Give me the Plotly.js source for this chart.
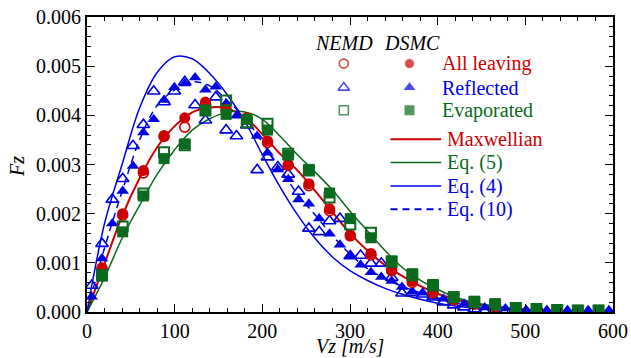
<!DOCTYPE html>
<html>
<head>
<meta charset="utf-8">
<script src="https://cdn.plot.ly/plotly-3.0.1.min.js"></script>
<style>html,body{margin:0;padding:0;background:#fff;}#plot{width:631px;height:358px;}</style>
</head>
<body>
<div id="plot"></div>
<script>
// ---- Data (Vz in m/s, Fz) ----
const xRefl = [5.3,17.1,28.9,40.7,52.5,64.3,76.1,87.9,99.7,111.5,123.3,135.1,146.9,158.7,170.5,182.3,194.1,205.9,217.7,229.5,241.3,253.1,264.9,276.7,288.5,300.3,312.1,323.9,335.7,347.5,359.3,371.1,382.9,394.7,406.5,418.3,430.1,441.9,453.7,465.5,477.3,489.1,500.9,512.7,524.5,536.3,548.1,559.9,571.7,583.5,595.3];
const dsmcRefl = [0.31e-3,1.09e-3,1.80e-3,2.46e-3,2.97e-3,3.65e-3,3.92e-3,4.31e-3,4.57e-3,4.65e-3,4.77e-3,4.52e-3,4.58e-3,4.24e-3,3.99e-3,3.88e-3,3.58e-3,3.24e-3,2.90e-3,2.70e-3,2.29e-3,2.20e-3,1.90e-3,1.59e-3,1.37e-3,1.14e-3,0.96e-3,0.81e-3,0.71e-3,0.63e-3,0.51e-3,0.41e-3,0.39e-3,0.305e-3,0.27e-3,0.22e-3,0.17e-3,0.15e-3,0.09e-3,0.08e-3,0.07e-3,0.05e-3,0.04e-3,0.04e-3,0.03e-3,0.03e-3,0.03e-3,0.02e-3,0.02e-3,0.02e-3,0.02e-3];
const nemdRefl = [0.54e-3,1.39e-3,2.29e-3,2.71e-3,3.38e-3,3.81e-3,4.49e-3,4.27e-3,4.49e-3,4.68e-3,4.21e-3,3.90e-3,4.37e-3,3.70e-3,3.58e-3,3.80e-3,2.89e-3,3.15e-3,2.95e-3,2.80e-3,2.45e-3,1.70e-3,1.63e-3,1.85e-3,1.90e-3,1.14e-3,1.15e-3,0.99e-3,0.99e-3,0.70e-3,0.38e-3,0.39e-3,0.36e-3,0.30e-3,0.20e-3,0.14e-3,0.10e-3,0.06e-3,0.01e-3,0.01e-3,0.01e-3,0.01e-3,0.01e-3,0.01e-3,0.01e-3,0.01e-3,0.01e-3,0.01e-3,0.01e-3,0.01e-3,0.01e-3];

const xAll = [17.1,40.7,64.3,87.9,111.5,135.1,158.7,182.3,205.9,229.5,253.1,276.7,300.3,323.9,347.5,371.1,394.7,418.3,441.9,465.5,489.1,512.7,536.3,559.9,583.5];
const dsmcAll = [0.90e-3,2.00e-3,2.88e-3,3.59e-3,3.95e-3,4.27e-3,4.13e-3,3.95e-3,3.48e-3,3.00e-3,2.61e-3,2.10e-3,1.57e-3,1.19e-3,0.86e-3,0.63e-3,0.41e-3,0.26e-3,0.17e-3,0.11e-3,0.07e-3,0.045e-3,0.03e-3,0.02e-3,0.01e-3];
const nemdAll = [0.88e-3,1.97e-3,2.83e-3,3.57e-3,3.76e-3,4.22e-3,4.10e-3,3.92e-3,3.45e-3,2.98e-3,2.57e-3,2.06e-3,1.55e-3,1.16e-3,0.84e-3,0.60e-3,0.39e-3,0.25e-3,0.16e-3,0.10e-3,0.06e-3,0.04e-3,0.02e-3,0.01e-3,0.01e-3];
const dsmcEvap = [0.73e-3,1.63e-3,2.36e-3,3.12e-3,3.42e-3,4.10e-3,4.02e-3,3.92e-3,3.70e-3,3.19e-3,2.90e-3,2.42e-3,1.90e-3,1.51e-3,1.04e-3,0.78e-3,0.56e-3,0.31e-3,0.22e-3,0.17e-3,0.09e-3,0.07e-3,0.05e-3,0.035e-3,0.035e-3];
const nemdEvap = [0.75e-3,1.74e-3,2.41e-3,3.25e-3,3.39e-3,4.10e-3,4.30e-3,3.86e-3,3.83e-3,3.22e-3,2.88e-3,2.33e-3,1.78e-3,1.61e-3,1.02e-3,0.75e-3,0.54e-3,0.30e-3,0.20e-3,0.15e-3,0.08e-3,0.06e-3,0.04e-3,0.03e-3,0.03e-3];

const xCurve = [0,20,40,60,80,100,120,140,160,180,200,220,240,260,280,300,320,340,360,380,400,420,440,460,480,500,520,540,560,580,600];
const maxwellian = [0,0.98e-3,1.95e-3,2.72e-3,3.35e-3,3.78e-3,4.06e-3,4.16e-3,4.14e-3,3.96e-3,3.62e-3,3.22e-3,2.88e-3,2.47e-3,2.03e-3,1.60e-3,1.25e-3,0.95e-3,0.73e-3,0.53e-3,0.37e-3,0.26e-3,0.18e-3,0.12e-3,0.08e-3,0.05e-3,0.03e-3,0.02e-3,0.01e-3,0.006e-3,0.004e-3];
const eq5 = [0,0.70e-3,1.50e-3,2.17e-3,2.80e-3,3.30e-3,3.70e-3,3.93e-3,4.06e-3,4.07e-3,3.92e-3,3.58e-3,3.20e-3,2.85e-3,2.48e-3,2.05e-3,1.65e-3,1.25e-3,0.90e-3,0.65e-3,0.46e-3,0.30e-3,0.20e-3,0.13e-3,0.08e-3,0.05e-3,0.03e-3,0.02e-3,0.012e-3,0.008e-3,0.005e-3];
const eq4 = [0,1.80e-3,3.00e-3,4.15e-3,4.87e-3,5.19e-3,5.15e-3,4.85e-3,4.42e-3,3.88e-3,3.20e-3,2.55e-3,1.98e-3,1.50e-3,1.12e-3,0.84e-3,0.64e-3,0.48e-3,0.36e-3,0.26e-3,0.18e-3,0.12e-3,0.08e-3,0.055e-3,0.035e-3,0.022e-3,0.014e-3,0.009e-3,0.006e-3,0.004e-3,0.002e-3];
const eq10 = [0,1.30e-3,2.45e-3,3.50e-3,4.20e-3,4.52e-3,4.68e-3,4.60e-3,4.30e-3,3.95e-3,3.45e-3,2.92e-3,2.40e-3,1.98e-3,1.55e-3,1.18e-3,0.88e-3,0.68e-3,0.52e-3,0.39e-3,0.29e-3,0.21e-3,0.15e-3,0.10e-3,0.07e-3,0.045e-3,0.03e-3,0.02e-3,0.012e-3,0.008e-3,0.005e-3];

const xTickVals = [0,100,200,300,400,500,600];
const yTickVals = [0,0.001,0.002,0.003,0.004,0.005,0.006];

// ---- Styles ----
const RED = '#cc0000', BLUE = '#0000e6', GREEN = '#0a6a1e';
const FONT = 'Liberation Serif';

const traces = [
  {x: xCurve, y: maxwellian, mode:'lines', line:{color:RED, width:2, shape:'spline'}},
  {x: xCurve, y: eq5, mode:'lines', line:{color:GREEN, width:1.5, shape:'spline'}},
  {x: xCurve, y: eq4, mode:'lines', line:{color:BLUE, width:1.5, shape:'spline'}},
  {x: xCurve, y: eq10, mode:'lines', line:{color:BLUE, width:1.5, dash:'7px,5px', shape:'spline'}},
  {x: xRefl, y: nemdRefl, mode:'markers', marker:{symbol:'triangle-up-open', size:11, color:BLUE, line:{width:1.6}}},
  {x: xRefl, y: dsmcRefl, mode:'markers', marker:{symbol:'triangle-up', size:11, color:BLUE}},
  {x: xAll, y: nemdAll, mode:'markers', marker:{symbol:'circle-open', size:10, color:RED, line:{width:1.6}}},
  {x: xAll, y: dsmcAll, mode:'markers', marker:{symbol:'circle', size:11, color:RED}},
  {x: xAll, y: nemdEvap, mode:'markers', marker:{symbol:'square-open', size:10, color:GREEN, line:{width:2}}},
  {x: xAll, y: dsmcEvap, mode:'markers', marker:{symbol:'square', size:11, color:GREEN}}
];

// legend (overlay axes in pixel-like units)
const lgOpenX = 256.8, lgFillX = 322.5;
const lgRowsY = [248.4, 224.4, 201.7];
traces.push({x:[lgOpenX,lgOpenX,lgOpenX], y:lgRowsY, xaxis:'x2', yaxis:'y2', mode:'markers', cliponaxis:false,
  marker:{symbol:['circle-open','triangle-up-open','square-open'], size:[9,10,9], color:[RED,BLUE,GREEN], line:{width:1.6}}});
traces.push({x:[lgFillX,lgFillX,lgFillX], y:lgRowsY, xaxis:'x2', yaxis:'y2', mode:'markers', cliponaxis:false,
  marker:{symbol:['circle','triangle-up','square'], size:[10,12,11], color:[RED,BLUE,GREEN]}});
const lineRowsY = [172.7, 149.4, 126.0, 102.7];
const lineStyles = [{color:RED,width:2},{color:GREEN,width:1.5},{color:BLUE,width:1.5},{color:BLUE,width:2,dash:'7px,5px'}];
lineRowsY.forEach((yy,i)=>{
  traces.push({x:[303.5,354.2], y:[yy,yy], xaxis:'x2', yaxis:'y2', mode:'lines', cliponaxis:false, line:lineStyles[i]});
});

const ann = [];
function addText(t, x, y, color, anchor, italic){
  ann.push({text: italic ? '<i>'+t+'</i>' : t, x:x, y:y, xref:'x2', yref:'y2', showarrow:false,
    xanchor:anchor, yanchor:'middle', font:{family:FONT, size:20, color:color}});
}
addText('NEMD', 257, 268.7, '#000', 'center', true);
addText('DSMC', 325, 268.7, '#000', 'center', true);
addText('All leaving', 353, 248.4, RED, 'left');
addText('Reflected', 353, 224.4, BLUE, 'left');
addText('Evaporated', 353, 201.7, GREEN, 'left');
addText('Maxwellian', 358, 172.7, RED, 'left');
addText('Eq. (5)', 358, 149.4, GREEN, 'left');
addText('Eq. (4)', 358, 126.0, BLUE, 'left');
addText('Eq. (10)', 358, 102.7, BLUE, 'left');
// axis titles (paper coordinates)
ann.push({text:'<i>Vz [m/s]</i>', xref:'paper', yref:'paper', x:0.5, y:-0.1153, showarrow:false,
  xanchor:'center', yanchor:'middle', borderpad:0, font:{family:FONT, size:20, color:'#000'}});
ann.push({text:'<i>Fz</i>', xref:'paper', yref:'paper', x:-0.1331, y:0.4949, showarrow:false, textangle:-90,
  xanchor:'center', yanchor:'middle', borderpad:0, font:{family:FONT, size:20, color:'#000'}});

const axisCommon = {
  showline:true, linewidth:2, linecolor:'#000', mirror:'allticks',
  ticks:'inside', ticklen:8, tickwidth:1, tickcolor:'#000',
  showgrid:false, zeroline:false,
  tickfont:{family:FONT, size:20, color:'#000'}
};

const layout = {
  width:631, height:358,
  margin:{l:87, r:18, t:17, b:46, pad:0},
  paper_bgcolor:'#fff', plot_bgcolor:'#fff',
  showlegend:false,
  font:{family:FONT, size:20, color:'#000'},
  xaxis: Object.assign({}, axisCommon, {
    range:[0,600], tickvals:xTickVals, ticktext:xTickVals.map(String),
    minor:{dtick:20, ticks:'inside', ticklen:4, tickwidth:1, tickcolor:'#000', showgrid:false}
  }),
  yaxis: Object.assign({}, axisCommon, {
    range:[0,0.006], tickvals:yTickVals, ticktext:yTickVals.map(v=>v.toFixed(3)),
    minor:{dtick:0.0002, ticks:'inside', ticklen:4, tickwidth:1, tickcolor:'#000', showgrid:false}
  }),
  xaxis2:{overlaying:'x', anchor:'y2', range:[0,526], visible:false, fixedrange:true},
  yaxis2:{overlaying:'y', anchor:'x2', range:[0,295], visible:false, fixedrange:true},
  annotations: ann
};

Plotly.newPlot('plot', traces, layout, {displayModeBar:false, staticPlot:true});
</script>
</body>
</html>
